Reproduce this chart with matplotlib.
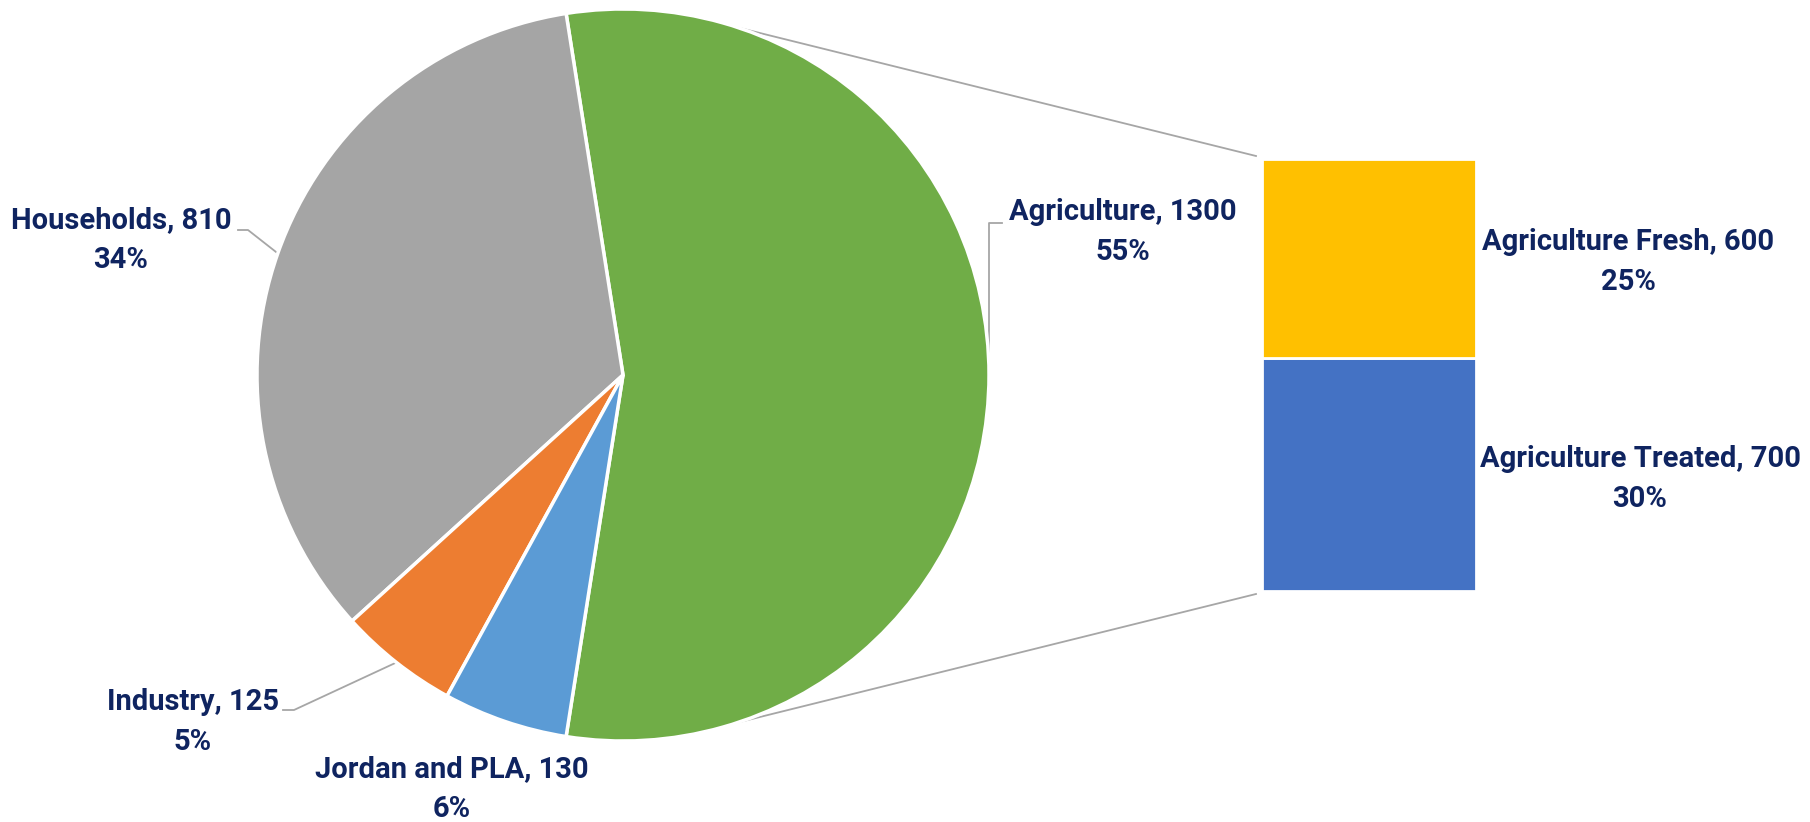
import numpy as np
import matplotlib.pyplot as plt

# main pie
categories = ['Agriculture', 'Households', 'Industry', 'Jordan and PLA']
values = [1300, 810, 125, 130]
pct_labels = ['55%', '34%', '5%', '6%']
colors = ['#70AD47', '#A5A5A5', '#ED7D31', '#5B9BD5']

# split of agriculture (bottom to top)
sub_categories = ['Agriculture Treated', 'Agriculture Fresh']
sub_values = [700, 600]
sub_pct = ['30%', '25%']
sub_colors = ['#4472C4', '#FFC000']

W, H = 1810, 822
txt_color = '#0F2460'
line_color = '#A6A6A6'
plt.rcParams['font.family'] = ['Roboto', 'DejaVu Sans']

fig = plt.figure(figsize=(W / 100, H / 100), dpi=100)
ax = fig.add_axes([0, 0, 1, 1])

cx, cy, r = 623, H - 375, 366
total = sum(values)
start = -values[0] / total * 180
wedges, _ = ax.pie(values, colors=colors, startangle=start, counterclock=True,
                   center=(cx, cy), radius=r,
                   wedgeprops=dict(edgecolor='white', linewidth=2.5))
for w in wedges:
    w.set_zorder(2)

# bar of the split slice
bar_x, bar_w = 1369, 214
bar_top, bar_bot = H - 159, H - 591
scale = (bar_top - bar_bot) / sum(sub_values)
heights = [v * scale for v in sub_values]
bottoms = bar_bot + np.concatenate([[0], np.cumsum(heights)[:-1]])
ax.bar(bar_x, heights, bottom=bottoms, width=bar_w, color=sub_colors,
       edgecolor='white', linewidth=2, zorder=2)

# connector lines
a = np.deg2rad(71.6)
left = bar_x - bar_w / 2 - 6
ax.plot([cx + r * np.cos(a), left], [cy + r * np.sin(a), bar_top + 3],
        color=line_color, lw=1.3, zorder=1)
ax.plot([cx + r * np.cos(a), left], [cy - r * np.sin(a), bar_bot - 3],
        color=line_color, lw=1.3, zorder=1)

# labels
fs = 21
ls = 1.55
mid = [(w.theta1 + w.theta2) / 2 for w in wedges]
pos = [(1123, H - 232), (121, H - 240), (193, H - 722), (452, H - 789)]
for cat, v, p, (x, y) in zip(categories, values, pct_labels, pos):
    ax.text(x, y, f'{cat}, {v}\n{p}', ha='center', va='center', fontsize=fs,
            fontweight='bold', color=txt_color, linespacing=ls, zorder=3)

# leader lines to the slice midpoints
def edge(i):
    t = np.deg2rad(mid[i])
    return cx + r * np.cos(t), cy + r * np.sin(t)

ex, ey = edge(0)
ax.plot([1002, ex, ex], [H - 223, H - 223, ey], color=line_color, lw=1.3, zorder=1)
ex, ey = edge(1)
ax.plot([238, 248, ex], [H - 230, H - 230, ey], color=line_color, lw=1.3, zorder=1)
ex, ey = edge(2)
ax.plot([283, 294, ex], [H - 710, H - 710, ey], color=line_color, lw=1.3, zorder=1)

sub_pos = [(1640, H - 479), (1628, H - 262)]
for cat, v, p, (x, y) in zip(sub_categories, sub_values, sub_pct, sub_pos):
    ax.text(x, y, f'{cat}, {v}\n{p}', ha='center', va='center', fontsize=fs,
            fontweight='bold', color=txt_color, linespacing=ls)

ax.set_xlim(0, W)
ax.set_ylim(0, H)
ax.set_aspect('equal')
ax.axis('off')

plt.savefig('out.png', dpi=100)
